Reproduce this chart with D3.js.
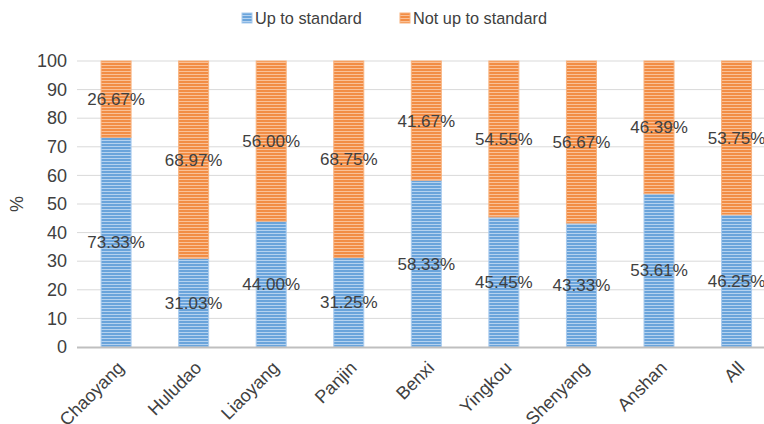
<!DOCTYPE html>
<html>
<head>
<meta charset="utf-8">
<script src="https://cdn.jsdelivr.net/npm/d3@7"></script>
<style>
  html, body { margin: 0; padding: 0; background: #fff; }
  svg { display: block; font-family: "Liberation Sans", Arial, Helvetica, sans-serif; }
</style>
</head>
<body>
<svg id="chart" width="764" height="424"></svg>
<script>
// Share of cities meeting the standard (percent)
const categories = ["Chaoyang", "Huludao", "Liaoyang", "Panjin", "Benxi", "Yingkou", "Shenyang", "Anshan", "All"];
const upToStandard = [73.33, 31.03, 44.00, 31.25, 58.33, 45.45, 43.33, 53.61, 46.25];
const notUpToStandard = [26.67, 68.97, 56.00, 68.75, 41.67, 54.55, 56.67, 46.39, 53.75];
const yTicks = [0, 10, 20, 30, 40, 50, 60, 70, 80, 90, 100];
const seriesNames = ["Up to standard", "Not up to standard"];

const svg = d3.select("#chart");
const W = 764;

const x = d3.scaleBand()
  .domain(categories)
  .range([77.3, 77.3 + 77.56 * categories.length])
  .paddingInner(0.6)
  .paddingOuter(0.3);

const y = d3.scaleLinear().domain([0, 100]).range([347, 61]);

// Striped fills
const defs = svg.append("defs");
function stripes(id, dark, light) {
  const p = defs.append("pattern")
    .attr("id", id)
    .attr("patternUnits", "userSpaceOnUse")
    .attr("width", 6).attr("height", 3);
  p.append("rect").attr("width", 6).attr("height", 3).attr("fill", dark);
  p.append("rect").attr("y", 2).attr("width", 6).attr("height", 1).attr("fill", light);
}
stripes("stripeBlue", "#6aa4db", "#b5d2ef");
stripes("stripeOrange", "#f28d45", "#f9c198");

const colors = [
  { fill: "url(#stripeBlue)", stroke: "#a9cbee" },
  { fill: "url(#stripeOrange)", stroke: "#f8b27e" }
];

// Gridlines
svg.append("g")
  .selectAll("line")
  .data(yTicks.filter(d => d > 0))
  .join("line")
  .attr("x1", 77).attr("x2", W)
  .attr("y1", d => y(d)).attr("y2", d => y(d))
  .attr("stroke", "#d9d9d9").attr("stroke-width", 1);

// Y axis tick labels
const yAxis = svg.append("g")
  .attr("transform", "translate(67,0)")
  .call(d3.axisLeft(y).tickValues(yTicks).tickSize(0).tickPadding(0));
yAxis.select(".domain").remove();
yAxis.selectAll("text")
  .attr("font-size", 18)
  .attr("fill", "#404040")
  .attr("font-family", "\"Liberation Sans\", Arial, sans-serif");

// Y axis title
svg.append("text")
  .attr("transform", "translate(23,204) rotate(-90)")
  .attr("text-anchor", "middle")
  .attr("font-size", 18)
  .attr("fill", "#404040")
  .text("%");

// Stacked bars
const stacked = categories.map((c, i) => ({
  cat: c,
  segs: [
    { s: 0, y0: 0, y1: upToStandard[i], v: upToStandard[i] },
    { s: 1, y0: upToStandard[i], y1: upToStandard[i] + notUpToStandard[i], v: notUpToStandard[i] }
  ]
}));

const bw = 30;
const groups = svg.append("g").selectAll("g")
  .data(stacked)
  .join("g")
  .attr("transform", d => `translate(${x(d.cat) + x.bandwidth() / 2},0)`);

groups.selectAll("rect")
  .data(d => d.segs)
  .join("rect")
  .attr("x", -bw / 2)
  .attr("width", bw)
  .attr("y", d => y(Math.min(d.y1, 100)))
  .attr("height", d => y(d.y0) - y(Math.min(d.y1, 100)))
  .attr("fill", d => colors[d.s].fill)
  .attr("stroke", d => colors[d.s].stroke)
  .attr("stroke-width", 1);

// Data labels
groups.selectAll("text")
  .data(d => d.segs)
  .join("text")
  .attr("x", 0)
  .attr("y", d => y((d.y0 + Math.min(d.y1, 100)) / 2))
  .attr("dy", "0.35em")
  .attr("text-anchor", "middle")
  .attr("font-size", 17)
  .attr("fill", "#404040")
  .text(d => d.v.toFixed(2) + "%");

// Baseline
svg.append("line")
  .attr("x1", 77).attr("x2", W)
  .attr("y1", y(0) + 0.5).attr("y2", y(0) + 0.5)
  .attr("stroke", "#bfbfbf").attr("stroke-width", 2);

// X axis labels
const xAxis = svg.append("g")
  .attr("transform", `translate(0,${y(0)})`)
  .call(d3.axisBottom(x).tickSize(0).tickPadding(0));
xAxis.select(".domain").remove();
xAxis.selectAll("text")
  .attr("font-size", 18)
  .attr("fill", "#404040")
  .attr("font-family", "\"Liberation Sans\", Arial, sans-serif")
  .attr("text-anchor", "end")
  .attr("dy", 0)
  .attr("transform", "translate(9,22) rotate(-45)");

// Legend
const legend = svg.append("g").attr("transform", "translate(242,13)");
const legendX = [0, 158];
seriesNames.forEach((name, i) => {
  const g = legend.append("g").attr("transform", `translate(${legendX[i]},0)`);
  g.append("rect").attr("width", 10).attr("height", 10)
    .attr("fill", colors[i].fill).attr("stroke", colors[i].stroke);
  g.append("text").attr("x", 13).attr("y", 5.5).attr("dy", "0.35em")
    .attr("font-size", 16.3).attr("fill", "#404040").text(name);
});
</script>
</body>
</html>
